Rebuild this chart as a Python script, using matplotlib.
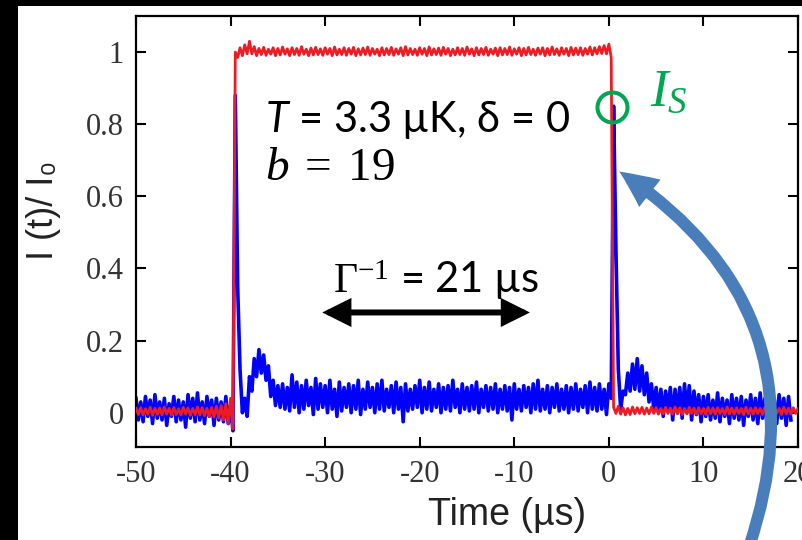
import numpy as np
import matplotlib
matplotlib.use("Agg")
import matplotlib.pyplot as plt
from matplotlib.patches import FancyArrowPatch, Rectangle

plt.rcParams['axes.unicode_minus'] = False
plt.rcParams['mathtext.fontset'] = 'custom'
plt.rcParams['mathtext.rm'] = 'Liberation Serif'
plt.rcParams['mathtext.it'] = 'Liberation Serif:italic'
plt.rcParams['mathtext.sf'] = 'Lato:italic'

# time grid of the scope traces (us)
t_start = -50.0
t_step = 0.5

# transmitted intensity, upper / lower edge of the noise band
# (upper edge sampled at t, lower edge at t + t_step/2)
blue_hi = [0.04, 0.03, 0.045, 0.035, 0.05, 0.03, 0.04, 0.025, 0.045, 0.035,
           0.03, 0.05, 0.04, 0.055, 0.03, 0.045, 0.035, 0.04, 0.03, 0.045,
           0.02, 0.88, 0.12, 0.04, 0.10, 0.15, 0.175, 0.16, 0.13, 0.09,
           0.075, 0.08, 0.07, 0.105, 0.085, 0.075, 0.09, 0.07, 0.095, 0.08,
           0.075, 0.09, 0.065, 0.085, 0.07, 0.08, 0.075, 0.09, 0.065, 0.085,
           0.07, 0.08, 0.09, 0.065, 0.075, 0.085, 0.07, 0.08, 0.065, 0.075,
           0.09, 0.07, 0.085, 0.065, 0.08, 0.07, 0.075, 0.09, 0.065, 0.08,
           0.07, 0.075, 0.085, 0.065, 0.075, 0.07, 0.08, 0.065, 0.075, 0.07,
           0.08, 0.065, 0.075, 0.07, 0.08, 0.09, 0.065, 0.075, 0.07, 0.08,
           0.065, 0.075, 0.07, 0.08, 0.065, 0.075, 0.085, 0.07, 0.08, 0.065,
           0.08, 0.85, 0.12, 0.06, 0.11, 0.135, 0.15, 0.13, 0.11, 0.08,
           0.07, 0.065, 0.06, 0.07, 0.065, 0.07, 0.08, 0.075, 0.06, 0.05,
           0.045, 0.05, 0.035, 0.055, 0.04, 0.035, 0.05, 0.04, 0.045, 0.035,
           0.05, 0.04, 0.055, 0.04, 0.045, 0.035, 0.05, 0.04, 0.045]
blue_lo = [-0.02, -0.025, -0.01, -0.03, -0.015, -0.02, -0.035, -0.01, -0.025, -0.02,
           -0.04, -0.015, -0.025, -0.02, -0.03, -0.01, -0.035, -0.02, -0.025, -0.03,
           -0.05, 0.35, 0.0, -0.01, 0.06, 0.10, 0.11, 0.09, 0.045, 0.02,
           0.015, 0.01, 0.005, 0.015, 0.0, 0.01, 0.02, -0.005, 0.01, 0.015,
           0.0, 0.01, -0.01, 0.005, 0.015, 0.0, 0.01, -0.005, 0.01, 0.015,
           0.0, 0.01, 0.005, 0.015, 0.0, 0.01, -0.025, 0.005, 0.01, 0.015,
           0.0, 0.01, 0.005, 0.015, 0.0, 0.01, 0.005, 0.015, 0.0, 0.01,
           0.005, 0.01, 0.0, 0.015, 0.005, 0.01, 0.0, 0.01, 0.005, -0.02,
           0.01, 0.005, 0.015, 0.0, 0.01, 0.005, 0.01, 0.0, 0.015, 0.005,
           0.01, 0.0, 0.01, 0.005, 0.015, 0.0, 0.01, 0.005, 0.01, -0.005,
           0.04, 0.45, 0.01, 0.05, 0.06, 0.065, 0.06, 0.05, 0.03, 0.01,
           0.0, -0.01, 0.005, -0.02, 0.0, -0.015, 0.0, -0.02, -0.005, -0.025,
           -0.01, -0.02, -0.015, -0.025, -0.01, -0.03, -0.015, -0.02, -0.035, -0.01,
           -0.02, -0.03, -0.015, -0.04, -0.02, -0.03, -0.015, -0.035, -0.02]

# incident intensity (no atoms)
red_hi = [0.012, 0.014, 0.011, 0.015, 0.012, 0.013, 0.016, 0.012, 0.014, 0.011,
          0.015, 0.013, 0.012, 0.016, 0.014, 0.012, 0.015, 0.018, 0.02, 0.025,
          0.04, 1.0, 1.012, 1.02, 1.03, 1.015, 1.01, 1.013, 1.008, 1.012,
          1.01, 1.014, 1.009, 1.012, 1.01, 1.015, 1.008, 1.011, 1.013, 1.009,
          1.012, 1.01, 1.014, 1.008, 1.012, 1.01, 1.013, 1.009, 1.011, 1.014,
          1.01, 1.008, 1.012, 1.01, 1.013, 1.009, 1.012, 1.015, 1.01, 1.008,
          1.012, 1.01, 1.014, 1.009, 1.011, 1.013, 1.01, 1.008, 1.012, 1.01,
          1.014, 1.009, 1.012, 1.01, 1.013, 1.008, 1.011, 1.012, 1.01, 1.014,
          1.009, 1.012, 1.01, 1.013, 1.008, 1.011, 1.012, 1.01, 1.014, 1.009,
          1.012, 1.01, 1.013, 1.011, 1.012, 1.01, 1.014, 1.012, 1.015, 1.018,
          1.022, 0.015, 0.018, 0.014, 0.012, 0.016, 0.014, 0.015, 0.013, 0.016,
          0.014, 0.012, 0.015, 0.013, 0.016, 0.014, 0.012, 0.015, 0.013, 0.014,
          0.012, 0.015, 0.013, 0.014, 0.012, 0.016, 0.013, 0.014, 0.012, 0.015,
          0.013, 0.014, 0.012, 0.015, 0.013, 0.014, 0.012, 0.015, 0.013, 0.014,
          0.012]
red_lo = [-0.005, -0.006, -0.004, -0.007, -0.005, -0.006, -0.004, -0.007, -0.005, -0.006,
          -0.004, -0.007, -0.005, -0.006, -0.008, -0.01, -0.012, -0.015, -0.02, -0.03,
          -0.045, 0.985, 0.99, 0.995, 0.995, 0.99, 0.993, 0.991, 0.994, 0.99,
          0.992, 0.994, 0.99, 0.993, 0.991, 0.994, 0.99, 0.992, 0.993, 0.991,
          0.994, 0.99, 0.992, 0.993, 0.991, 0.994, 0.99, 0.992, 0.993, 0.991,
          0.994, 0.99, 0.992, 0.993, 0.991, 0.994, 0.99, 0.992, 0.993, 0.991,
          0.994, 0.99, 0.992, 0.993, 0.991, 0.994, 0.99, 0.992, 0.993, 0.991,
          0.994, 0.99, 0.992, 0.993, 0.991, 0.994, 0.99, 0.992, 0.993, 0.991,
          0.994, 0.99, 0.992, 0.993, 0.991, 0.994, 0.99, 0.992, 0.993, 0.991,
          0.994, 0.99, 0.992, 0.993, 0.991, 0.994, 0.992, 0.995, 0.996, 0.995,
          0.985, -0.002, -0.004, -0.006, -0.005, -0.003, -0.002, -0.004, -0.003, -0.002,
          -0.004, -0.003, -0.002, -0.004, -0.003, -0.005, -0.003, -0.002, -0.004, -0.003,
          -0.005, -0.003, -0.004, -0.002, -0.005, -0.003, -0.004, -0.002, -0.005, -0.003,
          -0.004, -0.002, -0.005, -0.003, -0.004, -0.002, -0.005, -0.003, -0.004, -0.002,
          -0.004]

x_ticks = [-50, -40, -30, -20, -10, 0, 10, 20]
y_ticks = [0, 0.2, 0.4, 0.6, 0.8, 1]
y_ticklabels = ['0', '0.2', '0.4', '0.6', '0.8', '1']

# marked point I_s and decay-time scale bar
is_point = (0.36, 0.848)
bar_start, bar_end, bar_y = -30.3, -8.35, 0.278


def zigzag(hi, lo):
    """Interleave the band edges into one trace (hi at t, lo at t + step/2)."""
    t = t_start + t_step * np.arange(len(hi))
    x = np.empty(2 * len(hi))
    y = np.empty(2 * len(hi))
    x[0::2], x[1::2] = t, t + t_step / 2
    y[0::2], y[1::2] = hi, lo
    return x, y


W, H = 802, 540
fig = plt.figure(figsize=(W / 100, H / 100), dpi=100, facecolor='black')
fig.add_artist(Rectangle((18 / W, 0), 1, 534 / H, transform=fig.transFigure,
                         facecolor='white', edgecolor='none', zorder=-5))
ax = fig.add_axes([136 / W, 93 / H, 662 / W, 431 / H])

xb, yb = zigzag(blue_hi, blue_lo)
xr, yr = zigzag(red_hi, red_lo)
ax.plot(xb, yb, color='#0000ff', lw=2.6, zorder=2)
ax.plot(xr, yr, color='#ed1c24', lw=2.0, zorder=3)

ax.set_xlim(-50, 20)
ax.set_ylim(-0.095, 1.10)
ax.set_xticks(x_ticks)
ax.set_yticks(y_ticks)
ax.set_yticklabels(y_ticklabels)
ax.tick_params(direction='in', length=7, width=1.5, top=True, right=True,
               labelsize=22, labelcolor='#333333', pad=9)
for lab in ax.get_xticklabels() + ax.get_yticklabels():
    lab.set_family('Liberation Serif')
for s in ax.spines.values():
    s.set_linewidth(1.6)

ax.set_xlabel('Time (µs)', family='Liberation Sans', fontsize=27, color='#222222')
ax.xaxis.set_label_coords(0.56, -0.115)
ax.set_ylabel('I (t)/ I₀', family='Liberation Sans', fontsize=26, color='#222222')
ax.yaxis.set_label_coords(-0.113, 0.55)

# annotations
ax.text(-36.4, 0.778, r'$\mathsf{T}$ = 3.3 µK, δ = 0', family=['Lato', 'Liberation Serif'],
        fontsize=30, color='black', ha='left', va='baseline')
ax.text(-36.4, 0.644, r'$b\;=\;19$', fontsize=34, color='black', ha='left', va='baseline')
ax.text(-29.2, 0.333, r'$\Gamma^{-1}$ = 21 µs', family=['Lato', 'Liberation Serif'],
        fontsize=30, color='black', ha='left', va='baseline')
ax.add_patch(FancyArrowPatch((bar_start, bar_y), (bar_end, bar_y),
                             arrowstyle='<|-|>,head_length=14,head_width=7',
                             mutation_scale=1, lw=4.3, color='black',
                             shrinkA=0, shrinkB=0, joinstyle='miter', zorder=5))

green = '#00a651'
ax.plot([is_point[0]], [is_point[1]], 'o', ms=21.6, mfc='none', mec=green,
        mew=2.9, zorder=6, clip_on=False)
ax.text(4.3, 0.85, r'$I_S$', fontsize=38, color=green, ha='left', va='baseline')

# curved pointer towards the I_s level
fig.add_artist(FancyArrowPatch((748 / W, -10 / H), (617 / W, 370 / H),
                               transform=fig.transFigure,
                               connectionstyle='arc3,rad=0.39',
                               arrowstyle='simple,head_length=27,head_width=25,tail_width=8.6',
                               mutation_scale=1, facecolor='#4a7ebb', edgecolor='none',
                               zorder=10, clip_on=False))

fig.savefig('out.png', dpi=100, facecolor=fig.get_facecolor())
